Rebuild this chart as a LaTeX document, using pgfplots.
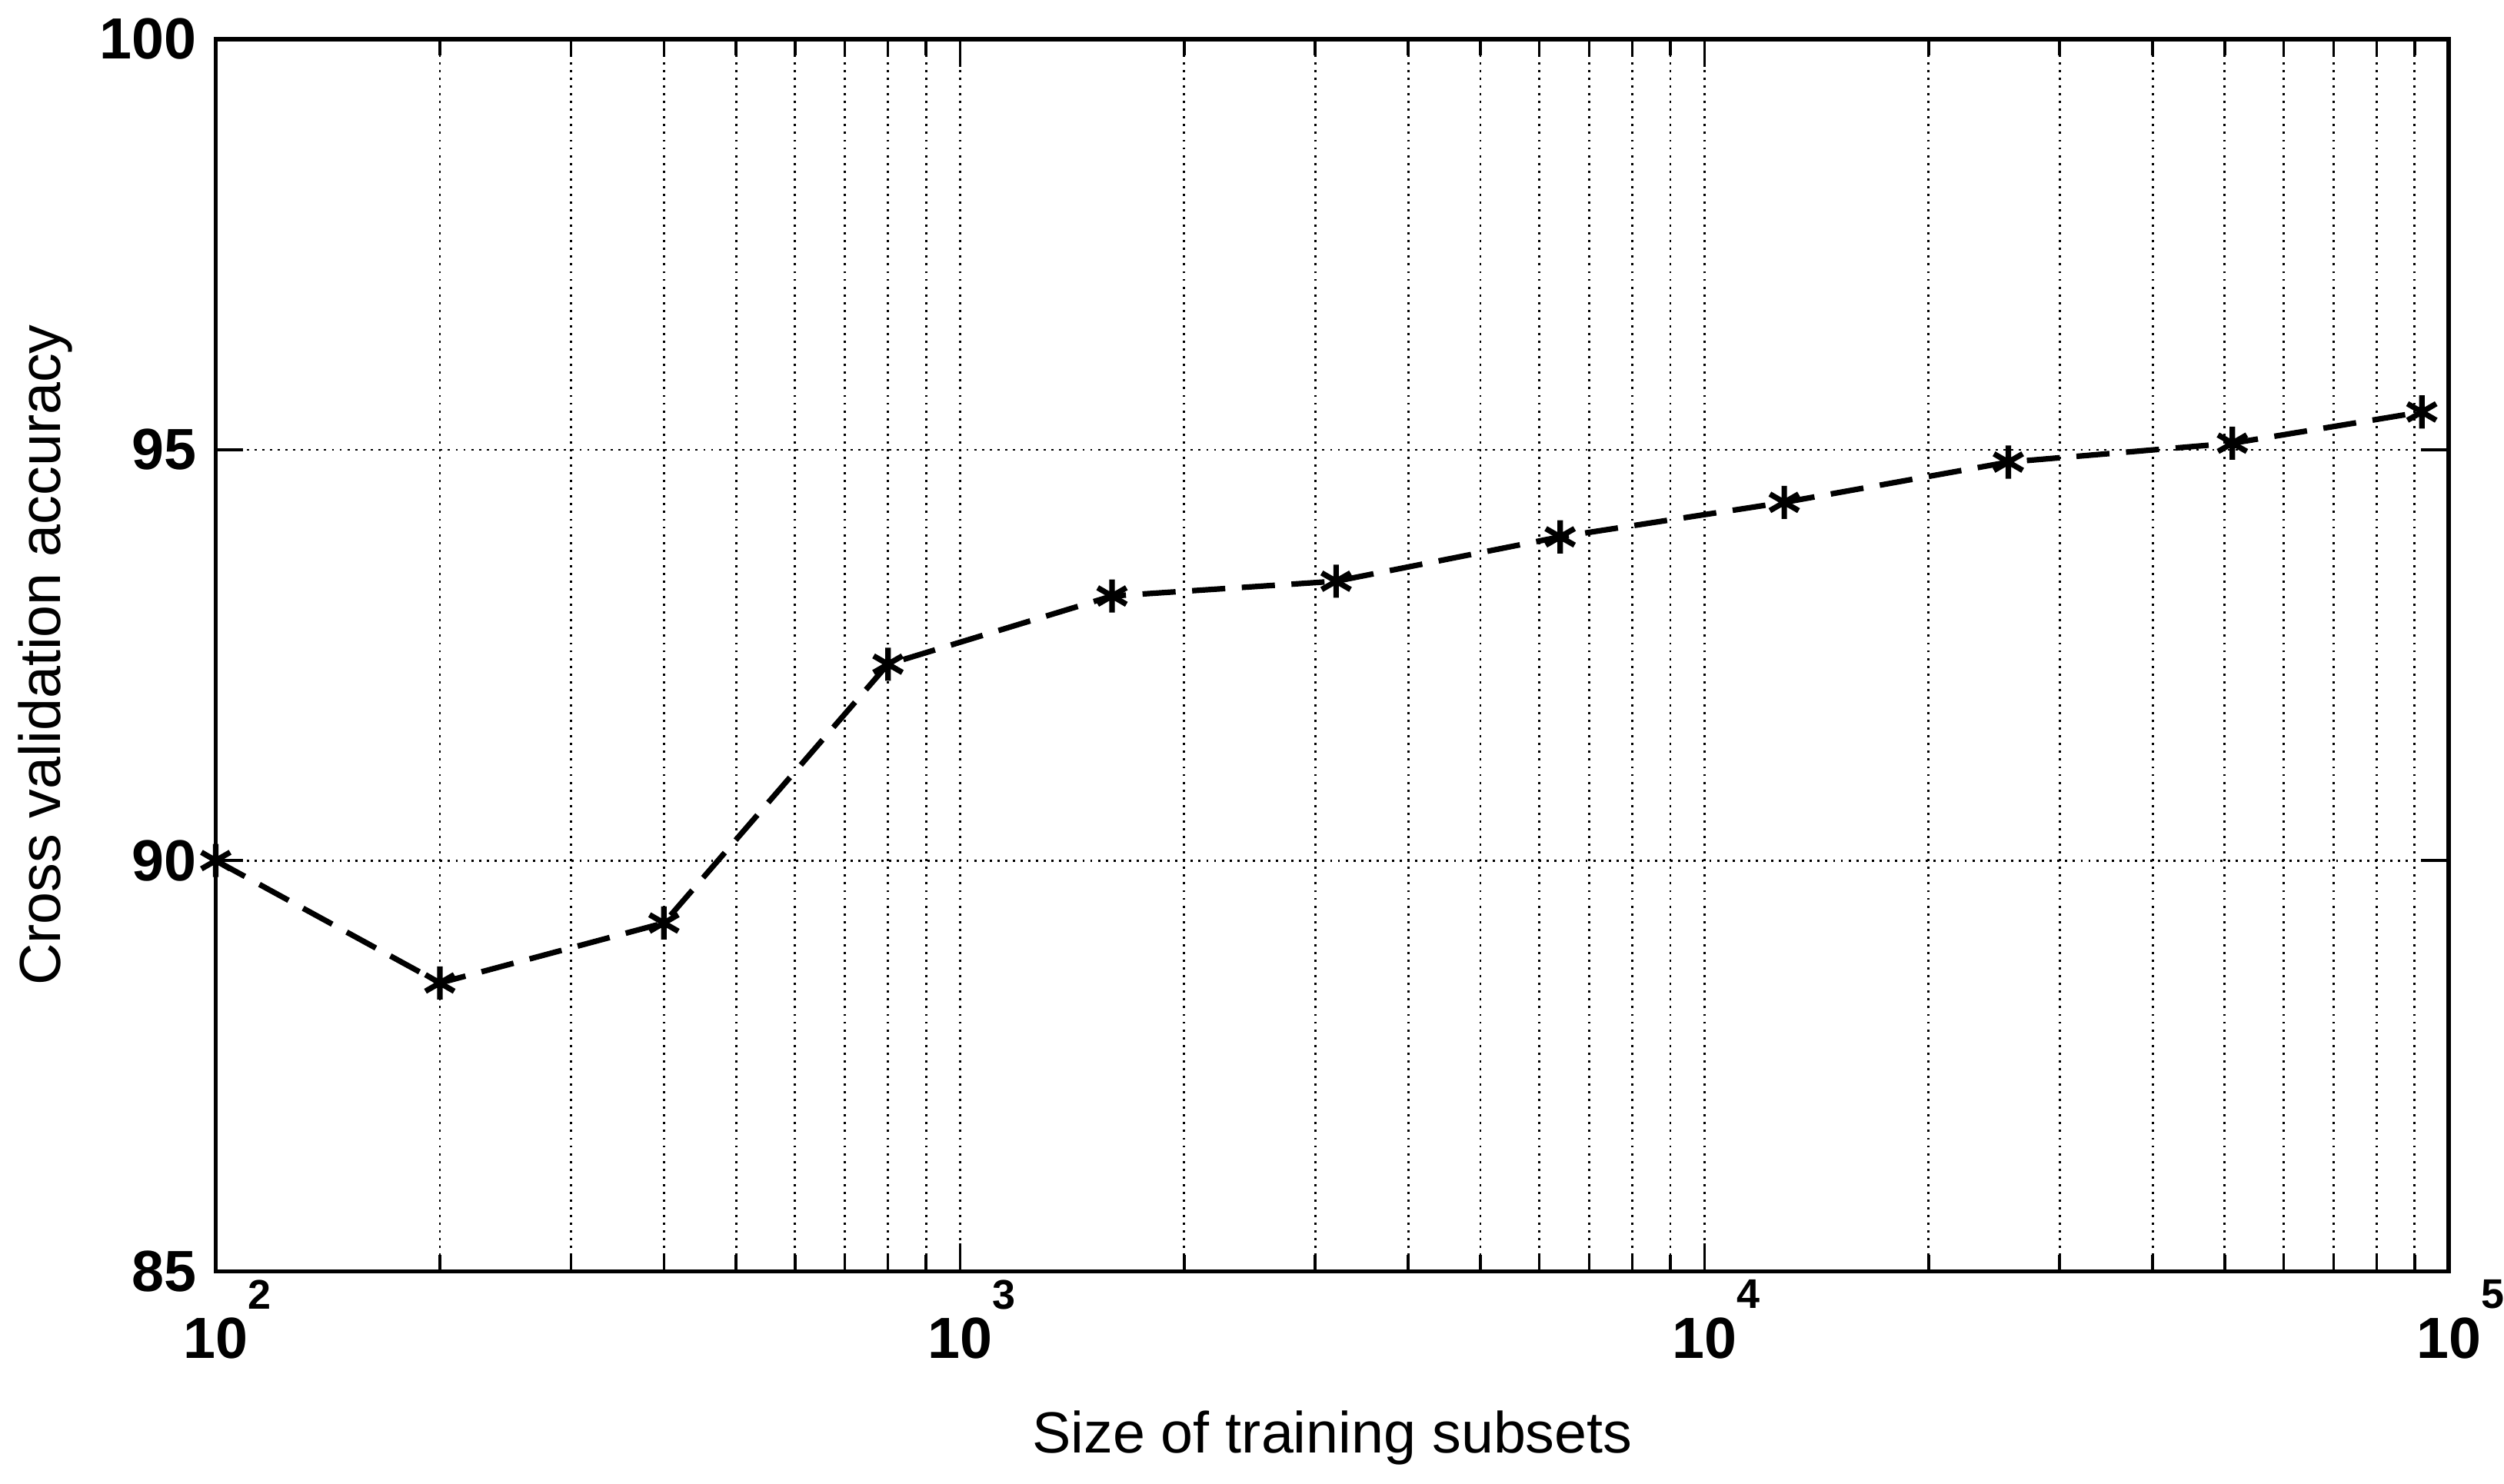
\documentclass[border=0pt]{standalone}
\usepackage{pgfplots}
\pgfplotsset{compat=1.18}
\usepackage{fontspec}
\setmainfont{Liberation Sans}
\newcommand{\tenp}[1]{10\rlap{\raisebox{9pt}{\fontsize{7.5}{8}\selectfont #1}}}
\begin{document}
\begin{tikzpicture}
\begin{axis}[
  scale only axis,
  width=404pt, height=223pt,
  xmode=log,
  xmin=100, xmax=100000,
  ymin=85, ymax=100,
  ytick={85,90,95,100},
  xtick={100,1000,10000,100000},
  xticklabels={\tenp{2},\tenp{3},\tenp{4},\tenp{5}},
  xticklabel style={yshift=2pt},
  grid=both,
  major grid style={densely dotted, black, line width=0.4pt},
  minor grid style={densely dotted, black, line width=0.4pt},
  tick align=inside,
  major tick length=5pt,
  minor tick length=3pt,
  tick style={black, line width=0.5pt},
  axis line style={line width=0.8pt},
  ticklabel style={font=\bfseries\fontsize{10.5}{12}\selectfont},
  label style={font=\fontsize{10.5}{12}\selectfont},
  /pgf/number format/assume math mode=true,
  xlabel={Size of training subsets},
  xlabel style={yshift=-2.5pt},
  ylabel={Cross validation accuracy},
  ylabel style={yshift=-2pt},
]
\addplot[black, dash pattern=on 6pt off 3pt, line width=1pt, mark=asterisk, mark size=3pt, mark options={solid, line width=1pt}]
coordinates {
(100,90.0)
(200,88.51)
(400,89.24)
(800,92.39)
(1600,93.22)
(3200,93.40)
(6400,93.94)
(12800,94.36)
(25600,94.85)
(51200,95.08)
(92000,95.46)
};
\end{axis}
\path[draw=none] (current axis.south east) rectangle ++(10pt,1pt);
\end{tikzpicture}
\end{document}
